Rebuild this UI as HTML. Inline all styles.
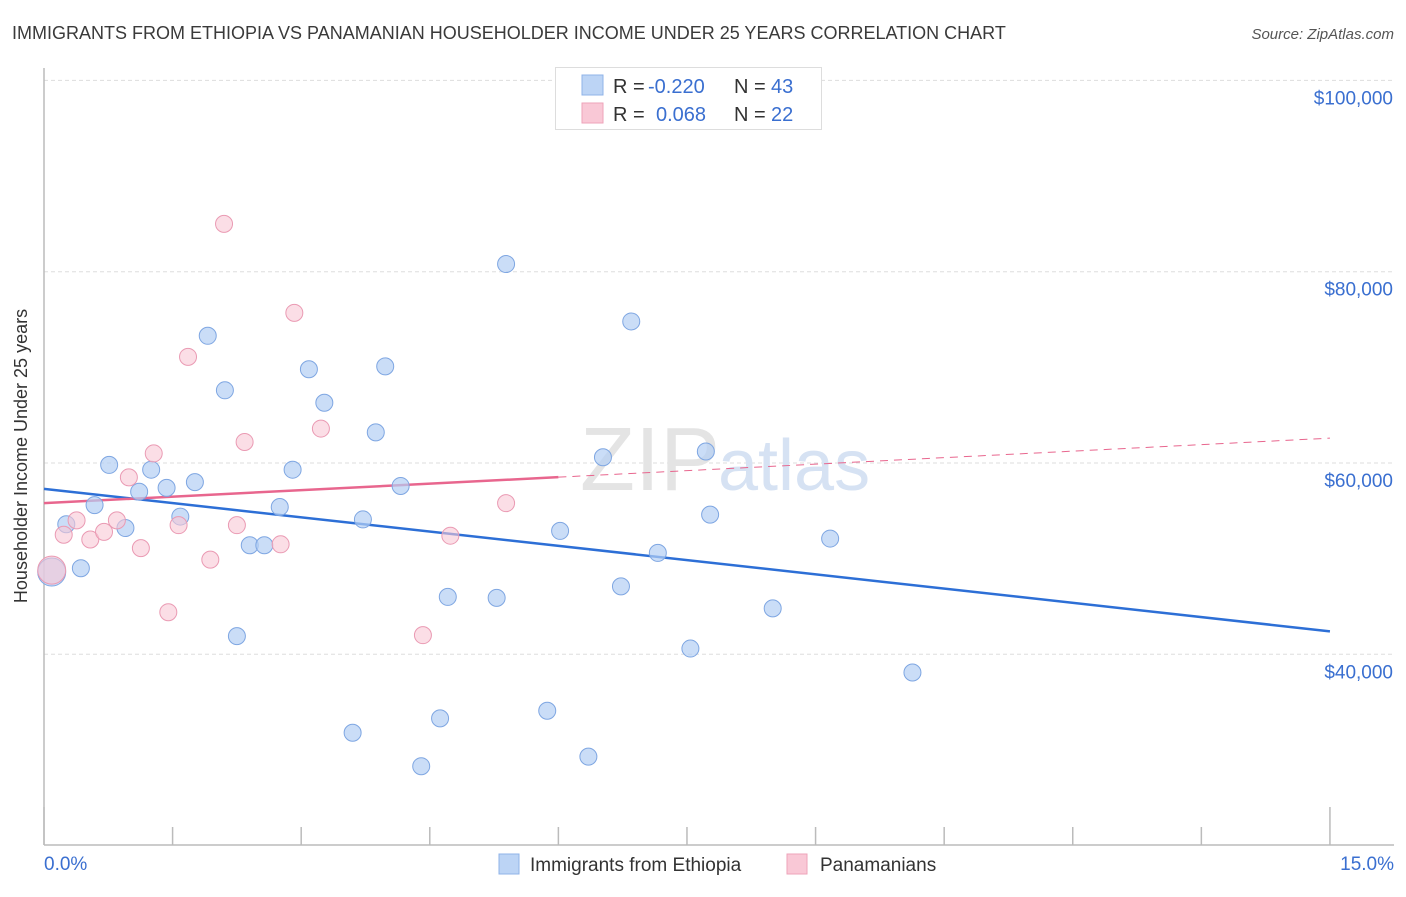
<!DOCTYPE html>
<html><head><meta charset="utf-8"><style>
body{margin:0;background:#fff;font-family:"Liberation Sans",sans-serif;}
svg text{font-family:"Liberation Sans",sans-serif;}
</style></head><body>
<svg id="chart" width="1406" height="892" viewBox="0 0 1406 892" xmlns="http://www.w3.org/2000/svg">
<text x="12" y="39" font-size="18" fill="#3a3a3a">IMMIGRANTS FROM ETHIOPIA VS PANAMANIAN HOUSEHOLDER INCOME UNDER 25 YEARS CORRELATION CHART</text>
<text x="1394" y="39" font-size="15" fill="#555" font-style="italic" text-anchor="end">Source: ZipAtlas.com</text>
<g id="grid"></g>
<text x="720" y="490" font-size="90" fill="#e4e4e4" text-anchor="end" font-family="Liberation Serif">ZIP</text>
<text x="718" y="490" font-size="72" fill="#d6e2f3">atlas</text>
<line x1="44" y1="68" x2="44" y2="845" stroke="#bbb" stroke-width="1.5"/>
<line x1="44" y1="845" x2="1394" y2="845" stroke="#bbb" stroke-width="1.5"/>
<g id="ticks"></g>
<text x="27" y="456" font-size="18" fill="#333" text-anchor="middle" transform="rotate(-90 27 456)">Householder Income Under 25 years</text>
<text x="44" y="870" font-size="19" fill="#3a6fd0">0.0%</text>
<text x="1394" y="870" font-size="19" fill="#3a6fd0" text-anchor="end">15.0%</text>
<g id="trends"></g>
<g id="pts"></g>
<g>
<rect x="555.5" y="67.5" width="266" height="62" fill="#fff" stroke="#ddd"/>
<rect x="582" y="75" width="21" height="20" fill="#bcd4f5" stroke="#8fb3e8"/>
<rect x="582" y="103" width="21" height="20" fill="#f9c8d6" stroke="#eea3b9"/>
<text x="613" y="93" font-size="20" fill="#333">R = </text><text x="648" y="93" font-size="20" fill="#3a6fd0">-0.220</text>
<text x="734" y="93" font-size="20" fill="#333">N = </text><text x="771" y="93" font-size="20" fill="#3a6fd0">43</text>
<text x="613" y="121" font-size="20" fill="#333">R = </text><text x="656" y="121" font-size="20" fill="#3a6fd0">0.068</text>
<text x="734" y="121" font-size="20" fill="#333">N = </text><text x="771" y="121" font-size="20" fill="#3a6fd0">22</text>
</g>
<g>
<rect x="499" y="854" width="20" height="20" fill="#bcd4f5" stroke="#8fb3e8"/>
<text x="530" y="871" font-size="19" fill="#333">Immigrants from Ethiopia</text>
<rect x="787" y="854" width="20" height="20" fill="#f9c8d6" stroke="#eea3b9"/>
<text x="820" y="871" font-size="19" fill="#333">Panamanians</text>
</g>
</svg>
<script>
const yTicks=[40000,60000,80000,100000];
const yTickLabels=["$40,000","$60,000","$80,000","$100,000"];
const xTicks=[0,1.5,3,4.5,6,7.5,9,10.5,12,13.5,15];
const blueX=[0.26,0.43,0.59,0.76,0.95,1.11,1.25,1.43,1.59,1.76,1.91,2.11,2.25,2.40,2.57,2.75,2.90,3.09,3.27,3.72,3.87,3.98,4.16,4.40,4.62,4.71,5.28,5.39,5.87,3.60,6.02,6.35,6.52,6.73,6.85,7.16,7.54,7.72,7.77,8.50,9.17,10.13,0.09];
const blueY=[53600,49000,55600,59800,53200,57000,59300,57400,54400,58000,73300,67600,41900,51400,51400,55400,59300,69800,66300,54100,63200,70100,57600,28300,33300,46000,45900,80800,34100,31800,52900,29300,60600,47100,74800,50600,40600,61200,54600,44800,52100,38100,48600];
const pinkX=[0.09,0.23,0.38,0.54,0.70,0.85,0.99,1.13,1.28,1.45,1.57,1.68,1.94,2.10,2.25,2.34,2.76,2.92,3.23,4.42,4.74,5.39];
const pinkY=[48800,52500,54000,52000,52800,54000,58500,51100,61000,44400,53500,71100,49900,85000,53500,62200,51500,75700,63600,42000,52400,55800];
const blueTrend=[57300,42400];
const pinkTrend=[55800,62600];
const pinkSolidEnd=6;
const NS="http://www.w3.org/2000/svg";
const X=v=>44+v*85.73, Y=v=>463-(v-60000)*0.009565;
function mk(t,a,p){const e=document.createElementNS(NS,t);for(const k in a)e.setAttribute(k,a[k]);p.appendChild(e);return e;}
const grid=document.getElementById('grid');
yTicks.forEach((v,i)=>{
 const l=mk('line',{x1:44,x2:1394,y1:Y(v),y2:Y(v),stroke:'#ddd','stroke-dasharray':'4 3'},grid);
 
 
 const t=mk('text',{x:1393,y:Y(v)+24,'font-size':19,fill:'#3a6fd0','text-anchor':'end'},grid);
 t.textContent=yTickLabels[i];
 
 
});
const tk=document.getElementById('ticks');
xTicks.forEach((v,i)=>{
 const l=mk('line',{x1:X(v),x2:X(v),y1:(i==0||i==xTicks.length-1)?807:827,y2:845,stroke:'#bbb','stroke-width':1.5},tk);
 
 
});
const tr=document.getElementById('trends');
const slope=(pinkTrend[1]-pinkTrend[0])/15;
let l=mk('line',{x1:X(0),y1:Y(blueTrend[0]),x2:X(15),y2:Y(blueTrend[1]),stroke:'#2d6fd6','stroke-width':2.5},tr);


l=mk('line',{x1:X(0),y1:Y(pinkTrend[0]),x2:X(pinkSolidEnd),y2:Y(pinkTrend[0]+slope*pinkSolidEnd),stroke:'#e8668e','stroke-width':2.5},tr);


l=mk('line',{x1:X(pinkSolidEnd),y1:Y(pinkTrend[0]+slope*pinkSolidEnd),x2:X(15),y2:Y(pinkTrend[1]),stroke:'#e8668e','stroke-width':1,'stroke-dasharray':'8 6'},tr);


const pts=document.getElementById('pts');
blueX.forEach((x,i)=>{
 const c=mk('circle',{cx:X(x),cy:Y(blueY[i]),r:i==blueX.length-1?14:8.5,fill:'rgba(180,206,244,0.7)',stroke:'#7ea6e2','stroke-width':1},pts);
 
 
});
pinkX.forEach((x,i)=>{
 const c=mk('circle',{cx:X(x),cy:Y(pinkY[i]),r:i==0?14:8.5,fill:'rgba(249,200,214,0.6)',stroke:'#ea9ab3','stroke-width':1},pts);
 
 
});
</script>
</body></html>
